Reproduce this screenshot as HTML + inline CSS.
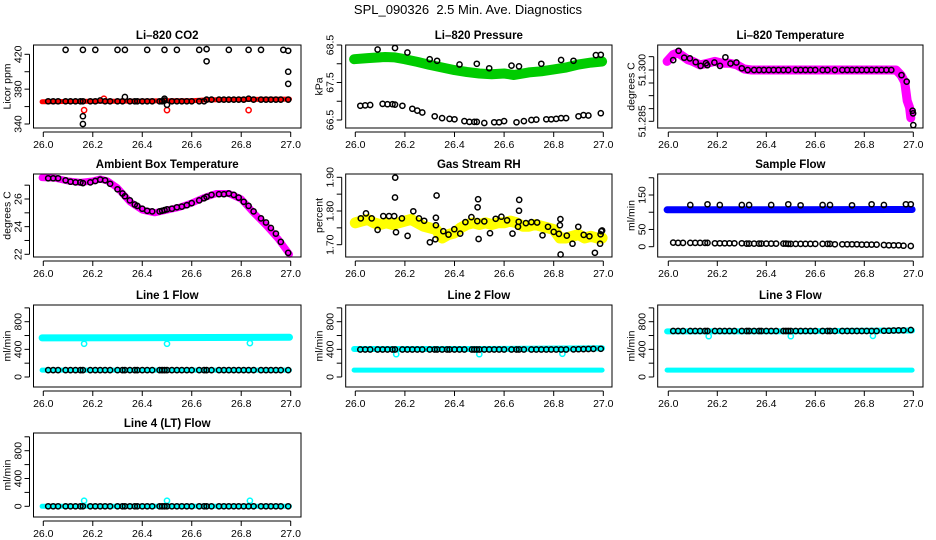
<!DOCTYPE html>
<html><head><meta charset="utf-8">
<style>
html,body{margin:0;padding:0;background:#fff;}
svg{display:block;font-family:"Liberation Sans",Arial,sans-serif;}
</style></head>
<body>
<svg id="chart" width="936" height="540" viewBox="0 0 936 540" xmlns="http://www.w3.org/2000/svg">
<text x="468" y="14" text-anchor="middle" font-size="13" style="white-space:pre" xml:space="preserve">SPL_090326  2.5 Min. Ave. Diagnostics</text>
</svg>
<script>
// shared sample times for black points
const tBlack = [26.02,26.04,26.06,26.09,26.11,26.13,26.15,26.16,26.19,26.21,26.23,26.25,26.27,26.30,26.32,26.33,26.35,26.37,26.38,26.40,26.42,26.44,26.47,26.48,26.49,26.50,26.52,26.54,26.56,26.58,26.60,26.63,26.65,26.66,26.68,26.71,26.73,26.75,26.77,26.79,26.81,26.83,26.85,26.88,26.90,26.92,26.94,26.96,26.99];
const tOutTop = [26.09,26.16,26.21,26.30,26.33,26.42,26.49,26.54,26.63,26.66,26.75,26.83,26.88,26.97,26.99];
const tOutCyan = [26.165,26.50,26.835];
const xTicks = [26.0,26.2,26.4,26.6,26.8,27.0];
const xTickLabels = ["26.0","26.2","26.4","26.6","26.8","27.0"];

// CO2
const co2BandX = [25.995,26.1,26.2,26.3,26.4,26.5,26.6,26.65,26.7,26.8,26.9,26.995];
const co2BandY = [365.5,365.8,366,366.2,366.4,366.6,366.8,367.5,367.8,368.2,368.4,368.6];
const co2BlackY = [366,366,366,366,366,366,366,366,366,366,367,366,366,366,366,371,366,366,366,366,366,366,366,366,367,362,366,366,366,366,366,366,366,368,368,368,368,368,368,368,368,369,368,368,368,368,368,368,368];
const co2OutY = [425,425,425,425,425,425,425,425,425,426,425,425,425,425,424];
const co2ExtraX = [26.16,26.16,26.49,26.66,26.99,26.99];
const co2ExtraY = [349,340,369,412,400,386];
const co2RedX = [26.165,26.50,26.83,26.245];
const co2RedY = [356,356,356,369];

// Pressure
const presBandX = [25.995,26.05,26.12,26.16,26.2,26.25,26.3,26.35,26.4,26.45,26.5,26.55,26.6,26.64,26.7,26.75,26.8,26.85,26.9,26.95,26.995];
const presBandY = [68.12,68.15,68.18,68.17,68.12,68.05,67.97,67.9,67.83,67.78,67.74,67.72,67.74,67.7,67.77,67.8,67.85,67.9,67.98,68.03,68.06];
const presTopY = [68.38,68.42,68.3,68.12,68.08,67.98,68.0,67.88,67.95,67.93,68.0,68.1,68.08,68.23,68.24];
const presLowX = [26.02,26.04,26.06,26.11,26.13,26.15,26.16,26.19,26.23,26.25,26.27,26.32,26.35,26.38,26.40,26.44,26.46,26.48,26.49,26.52,26.56,26.58,26.60,26.65,26.68,26.71,26.73,26.77,26.79,26.81,26.83,26.85,26.90,26.92,26.94,26.99];
const presLowY = [66.88,66.89,66.9,66.93,66.92,66.92,66.91,66.88,66.8,66.75,66.7,66.6,66.55,66.53,66.52,66.47,66.45,66.45,66.45,66.42,66.44,66.44,66.47,66.44,66.47,66.5,66.51,66.52,66.52,66.53,66.55,66.55,66.6,66.63,66.62,66.68];

// Li-820 temperature
const tempBandX = [25.995,26.02,26.04,26.06,26.08,26.1,26.13,26.16,26.19,26.22,26.25,26.28,26.31,26.34,26.5,26.7,26.93,26.95,26.965,26.975,26.985,26.99];
const tempBandY = [51.3025,51.3045,51.305,51.304,51.303,51.3025,51.3015,51.302,51.3025,51.302,51.302,51.3015,51.3003,51.300,51.300,51.300,51.300,51.2985,51.2965,51.291,51.289,51.286];
const tempBlackX = [26.02,26.042,26.065,26.088,26.112,26.132,26.154,26.159,26.188,26.211,26.233,26.254,26.278,26.30,26.324,26.35,26.37,26.39,26.41,26.43,26.45,26.47,26.49,26.52,26.54,26.56,26.58,26.60,26.63,26.65,26.68,26.71,26.73,26.75,26.77,26.79,26.81,26.83,26.85,26.87,26.89,26.91,26.952,26.973,26.997,26.999,27.0];
const tempBlackY = [51.3029,51.3056,51.3036,51.3034,51.3023,51.3012,51.302,51.3014,51.3022,51.3012,51.3037,51.3019,51.3022,51.3005,51.300,51.300,51.300,51.300,51.300,51.300,51.300,51.300,51.300,51.300,51.300,51.300,51.300,51.300,51.300,51.300,51.300,51.300,51.300,51.300,51.300,51.300,51.300,51.300,51.300,51.300,51.300,51.300,51.2985,51.2966,51.2881,51.2873,51.2839];

// Ambient box temperature
const ambBandX = [25.995,26.05,26.1,26.15,26.2,26.23,26.26,26.3,26.35,26.4,26.45,26.5,26.55,26.6,26.65,26.7,26.75,26.8,26.85,26.9,26.95,26.995];
const ambBandY = [27.55,27.5,27.3,27.2,27.3,27.45,27.3,26.8,25.8,25.2,25.0,25.2,25.4,25.7,26.1,26.4,26.4,26.0,25.0,24.1,23.1,22.0];
const ambBlackY = [27.5,27.5,27.5,27.35,27.25,27.2,27.2,27.15,27.2,27.3,27.4,27.35,27.1,26.7,26.4,26.2,25.9,25.6,25.5,25.3,25.15,25.1,25.1,25.15,25.2,25.25,25.3,25.4,25.45,25.55,25.7,25.9,26.05,26.15,26.3,26.35,26.35,26.4,26.3,26.1,25.8,25.5,25.1,24.6,24.3,23.9,23.5,22.9,22.1];

// Gas stream RH
const rhBandX = [26.0,26.025,26.05,26.075,26.1,26.125,26.15,26.175,26.2,26.225,26.25,26.275,26.3,26.325,26.35,26.375,26.4,26.425,26.45,26.475,26.5,26.525,26.55,26.575,26.6,26.625,26.65,26.675,26.7,26.725,26.75,26.775,26.8,26.825,26.85,26.875,26.9,26.925,26.95,26.975,26.995];
const rhBandY = [1.765,1.77,1.775,1.765,1.76,1.765,1.76,1.765,1.77,1.775,1.765,1.755,1.75,1.745,1.72,1.73,1.735,1.75,1.76,1.765,1.76,1.765,1.76,1.765,1.765,1.77,1.765,1.755,1.755,1.76,1.755,1.75,1.745,1.72,1.72,1.725,1.73,1.72,1.725,1.72,1.72];
const rhBlackX = [26.022,26.043,26.066,26.090,26.113,26.136,26.157,26.160,26.161,26.164,26.188,26.211,26.234,26.257,26.278,26.301,26.323,26.325,26.325,26.328,26.355,26.376,26.399,26.423,26.444,26.468,26.492,26.493,26.495,26.497,26.520,26.543,26.566,26.589,26.612,26.634,26.656,26.659,26.660,26.661,26.688,26.710,26.733,26.755,26.777,26.800,26.821,26.825,26.827,26.828,26.853,26.876,26.899,26.921,26.944,26.966,26.987,26.989,26.992,26.995];
const rhBlackY = [1.778,1.793,1.778,1.744,1.785,1.785,1.785,1.840,1.899,1.737,1.778,1.726,1.799,1.778,1.771,1.707,1.716,1.758,1.780,1.846,1.740,1.730,1.746,1.733,1.767,1.782,1.770,1.811,1.835,1.717,1.769,1.734,1.777,1.783,1.772,1.733,1.753,1.768,1.801,1.833,1.764,1.767,1.766,1.728,1.753,1.738,1.732,1.758,1.776,1.671,1.727,1.703,1.753,1.729,1.725,1.676,1.703,1.731,1.740,1.742];

// Sample flow
const sfBandX = [25.995,26.5,26.995];
const sfBandY = [107,107,108];
const sfTopY = [121,123,121,121,121,121,123,120,121,121,120,123,121,123,123];
const sfLowY = [12,11,11,11,11,11,11,11,10,10,10,10,10,10,9,9,9,9,9,9,9,9,9,9,8,8,8,8,8,8,8,8,8,8,7,7,7,7,7,6,6,6,6,5,4,4,4,3,2];

// Line flows
const flowBandX = [25.995,26.5,26.995];
const l1Upper = [565,570,575];
const l1Lower = [100,100,100];
const l1BlackY = tBlack.map(()=>100);
const l1OutY = [480,480,490];
const l2Upper = [405,405,415];
const l2Lower = [100,100,100];
const l2BlackY = [398,398,398,398,398,398,398,398,398,398,398,398,398,398,398,398,398,398,398,398,398,398,398,398,398,398,398,398,398,398,398,398,398,398,398,398,398,398,398,398,398,398,398,400,402,404,405,406,408];
const l2OutY = [330,330,335];
const l3Upper = [660,662,672];
const l3Lower = [100,100,100];
const l3BlackY = [665,665,665,665,665,665,665,665,665,665,665,665,665,665,665,665,665,665,665,665,665,665,665,665,665,665,665,665,665,665,665,665,665,665,665,665,665,665,665,665,665,665,665,668,670,672,674,676,680];
const l3OutY = [590,590,595];
const l4Band = [0,0,0];
const l4BlackY = tBlack.map(()=>0);
const l4OutY = [80,80,80];

const NS = "http://www.w3.org/2000/svg";
const svg = document.getElementById('chart');
function mk(tag, attrs, parent){
  const e = document.createElementNS(NS, tag);
  for (const k in attrs) e.setAttribute(k, attrs[k]);
  (parent||svg).appendChild(e);
  return e;
}
const cols = [{L:33.5,R:301,x0:43.3,x1:290.7},{L:345.7,R:612,x0:355.3,x1:603.3},{L:657.7,R:923,x0:668.3,x1:913.3}];
const rows = [{T:45,B:128},{T:174,B:257},{T:305,B:387},{T:433,B:517}];

function panel(p){
  const c = cols[p.col], r = rows[p.row];
  const g = mk('g', {});
  
  
  const xs = v => c.x0 + (v-26)*(c.x1-c.x0);
  const ys = v => p.ya[1] + (v-p.ya[0])*(p.yb[1]-p.ya[1])/(p.yb[0]-p.ya[0]);
  const t = mk('text', {x:(c.L+c.R)/2, y:r.T-6, 'text-anchor':'middle', 'font-size':11.5, 'font-weight':'bold'}, g);
  t.textContent = p.title;
  
  
  const clip = mk('g', {}, g);
  (p.bands||[]).forEach(b=>{
    const pts = b.x.map((xv,i)=>xs(xv).toFixed(1)+','+ys(b.y[i]).toFixed(1)).join(' ');
    const pl = mk('polyline', {points:pts, fill:'none', stroke:b.color, 'stroke-width':b.w, 'stroke-linejoin':'round', 'stroke-linecap':'round'}, clip);
    
    
  });
  (p.points||[]).forEach(s=>{
    s.x.forEach((xv,i)=>{
      const ci = mk('circle', {cx:xs(xv).toFixed(1), cy:ys(s.y[i]).toFixed(1), r:2.6, fill:'none', stroke:s.color, 'stroke-width':1.5}, clip);
      
      
    });
  });
  const box = mk('rect', {x:c.L, y:r.T, width:c.R-c.L, height:r.B-r.T, fill:'none', stroke:'#000', 'stroke-width':1}, g);
  
  
  const xa = mk('g', {}, g);
  
  
  mk('line', {x1:xs(xTicks[0]), x2:xs(xTicks[xTicks.length-1]), y1:r.B+4, y2:r.B+4, stroke:'#000'}, xa);
  xTicks.forEach((v,i)=>{
    mk('line', {x1:xs(v), x2:xs(v), y1:r.B+4, y2:r.B+9, stroke:'#000'}, xa);
    const tl = mk('text', {x:xs(v), y:r.B+20, 'text-anchor':'middle', 'font-size':10.5}, xa);
    tl.textContent = xTickLabels[i];
    
    
  });
  const ya = mk('g', {}, g);
  
  
  const ax = c.L-4;
  mk('line', {x1:ax, x2:ax, y1:ys(p.yt[0]), y2:ys(p.yt[p.yt.length-1]), stroke:'#000'}, ya);
  p.yt.forEach((v,i)=>{
    const y = ys(v);
    mk('line', {x1:ax-5, x2:ax, y1:y, y2:y, stroke:'#000'}, ya);
    if (p.yl[i]) {
      const tl = mk('text', {x:0, y:0, 'text-anchor':'middle', 'font-size':10.5, transform:`translate(${ax-8},${y}) rotate(-90)`}, ya);
      tl.textContent = p.yl[i];
      
      
    }
  });
  const yt = mk('text', {x:0, y:0, 'text-anchor':'middle', 'font-size':10.5, transform:`translate(${c.L-23},${(r.T+r.B)/2}) rotate(-90)`}, g);
  yt.textContent = p.ylab;
  
  
}

const flowTicks = [0,200,400,600,800,1000];
const flowLabels = ["0","","400","","800",""];

panel({name:'panel-co2', col:0,row:0,title:'Li–820 CO2', ylab:'Licor ppm', ya:[340,124], yb:[420,54.3], yt:[340,360,380,400,420], yl:["340","","380","","420"],
  bands:[{x:co2BandX,y:co2BandY,color:'#ff0000',w:5}],
  points:[{x:co2RedX,y:co2RedY,color:'#ff0000'},{x:tBlack,y:co2BlackY,color:'#000'},{x:tOutTop,y:co2OutY,color:'#000'},{x:co2ExtraX,y:co2ExtraY,color:'#000'}]});
panel({name:'panel-pressure', col:1,row:0,title:'Li–820 Pressure', ylab:'kPa', ya:[66.5,120], yb:[68.5,45], yt:[66.5,67.0,67.5,68.0,68.5], yl:["66.5","","67.5","","68.5"],
  bands:[{x:presBandX,y:presBandY,color:'#00cc00',w:10}],
  points:[{x:tOutTop,y:presTopY,color:'#000'},{x:presLowX,y:presLowY,color:'#000'}]});
panel({name:'panel-li820-temperature', col:2,row:0,title:'Li–820 Temperature', ylab:'degrees C', ya:[51.285,121.3], yb:[51.300,70], yt:[51.2850,51.2887,51.2925,51.2962,51.300,51.3039], yl:["51.285","","","","51.300",""],
  bands:[{x:tempBandX,y:tempBandY,color:'#ff00ff',w:9}],
  points:[{x:tempBlackX,y:tempBlackY,color:'#000'}]});
panel({name:'panel-ambient-temperature', col:0,row:1,title:'Ambient Box Temperature', ylab:'degrees C', ya:[22,254.3], yb:[26,199], yt:[22,23,24,25,26,27], yl:["22","","24","","26",""],
  bands:[{x:ambBandX,y:ambBandY,color:'#ff00ff',w:7}],
  points:[{x:tBlack,y:ambBlackY,color:'#000'}]});
panel({name:'panel-gas-rh', col:1,row:1,title:'Gas Stream RH', ylab:'percent', ya:[1.70,244.7], yb:[1.90,177.3], yt:[1.70,1.75,1.80,1.85,1.90], yl:["1.70","","1.80","","1.90"],
  bands:[{x:rhBandX,y:rhBandY,color:'#ffff00',w:11}],
  points:[{x:rhBlackX,y:rhBlackY,color:'#000'}]});
panel({name:'panel-sample-flow', col:2,row:1,title:'Sample Flow', ylab:'ml/min', ya:[0,246.7], yb:[150,195], yt:[0,50,100,150,200], yl:["0","50","","150",""],
  bands:[{x:sfBandX,y:sfBandY,color:'#0000ff',w:7}],
  points:[{x:tOutTop,y:sfTopY,color:'#000'},{x:tBlack,y:sfLowY,color:'#000'}]});
panel({name:'panel-line1-flow', col:0,row:2,title:'Line 1 Flow', ylab:'ml/min', ya:[0,377], yb:[800,321.7], yt:flowTicks, yl:flowLabels,
  bands:[{x:flowBandX,y:l1Upper,color:'#00ffff',w:7},{x:flowBandX,y:l1Lower,color:'#00ffff',w:5}],
  points:[{x:tOutCyan,y:l1OutY,color:'#00ffff'},{x:tBlack,y:l1BlackY,color:'#000'}]});
panel({name:'panel-line2-flow', col:1,row:2,title:'Line 2 Flow', ylab:'ml/min', ya:[0,377], yb:[800,321.7], yt:flowTicks, yl:flowLabels,
  bands:[{x:flowBandX,y:l2Upper,color:'#00ffff',w:6},{x:flowBandX,y:l2Lower,color:'#00ffff',w:5}],
  points:[{x:tOutCyan,y:l2OutY,color:'#00ffff'},{x:tBlack,y:l2BlackY,color:'#000'}]});
panel({name:'panel-line3-flow', col:2,row:2,title:'Line 3 Flow', ylab:'ml/min', ya:[0,377], yb:[800,321.7], yt:flowTicks, yl:flowLabels,
  bands:[{x:flowBandX,y:l3Upper,color:'#00ffff',w:6},{x:flowBandX,y:l3Lower,color:'#00ffff',w:5}],
  points:[{x:tOutCyan,y:l3OutY,color:'#00ffff'},{x:tBlack,y:l3BlackY,color:'#000'}]});
panel({name:'panel-line4-flow', col:0,row:3,title:'Line 4 (LT) Flow', ylab:'ml/min', ya:[0,506.3], yb:[800,450.7], yt:flowTicks, yl:flowLabels,
  bands:[{x:flowBandX,y:l4Band,color:'#00ffff',w:5}],
  points:[{x:tOutCyan,y:l4OutY,color:'#00ffff'},{x:tBlack,y:l4BlackY,color:'#000'}]});
</script>
</body></html>
